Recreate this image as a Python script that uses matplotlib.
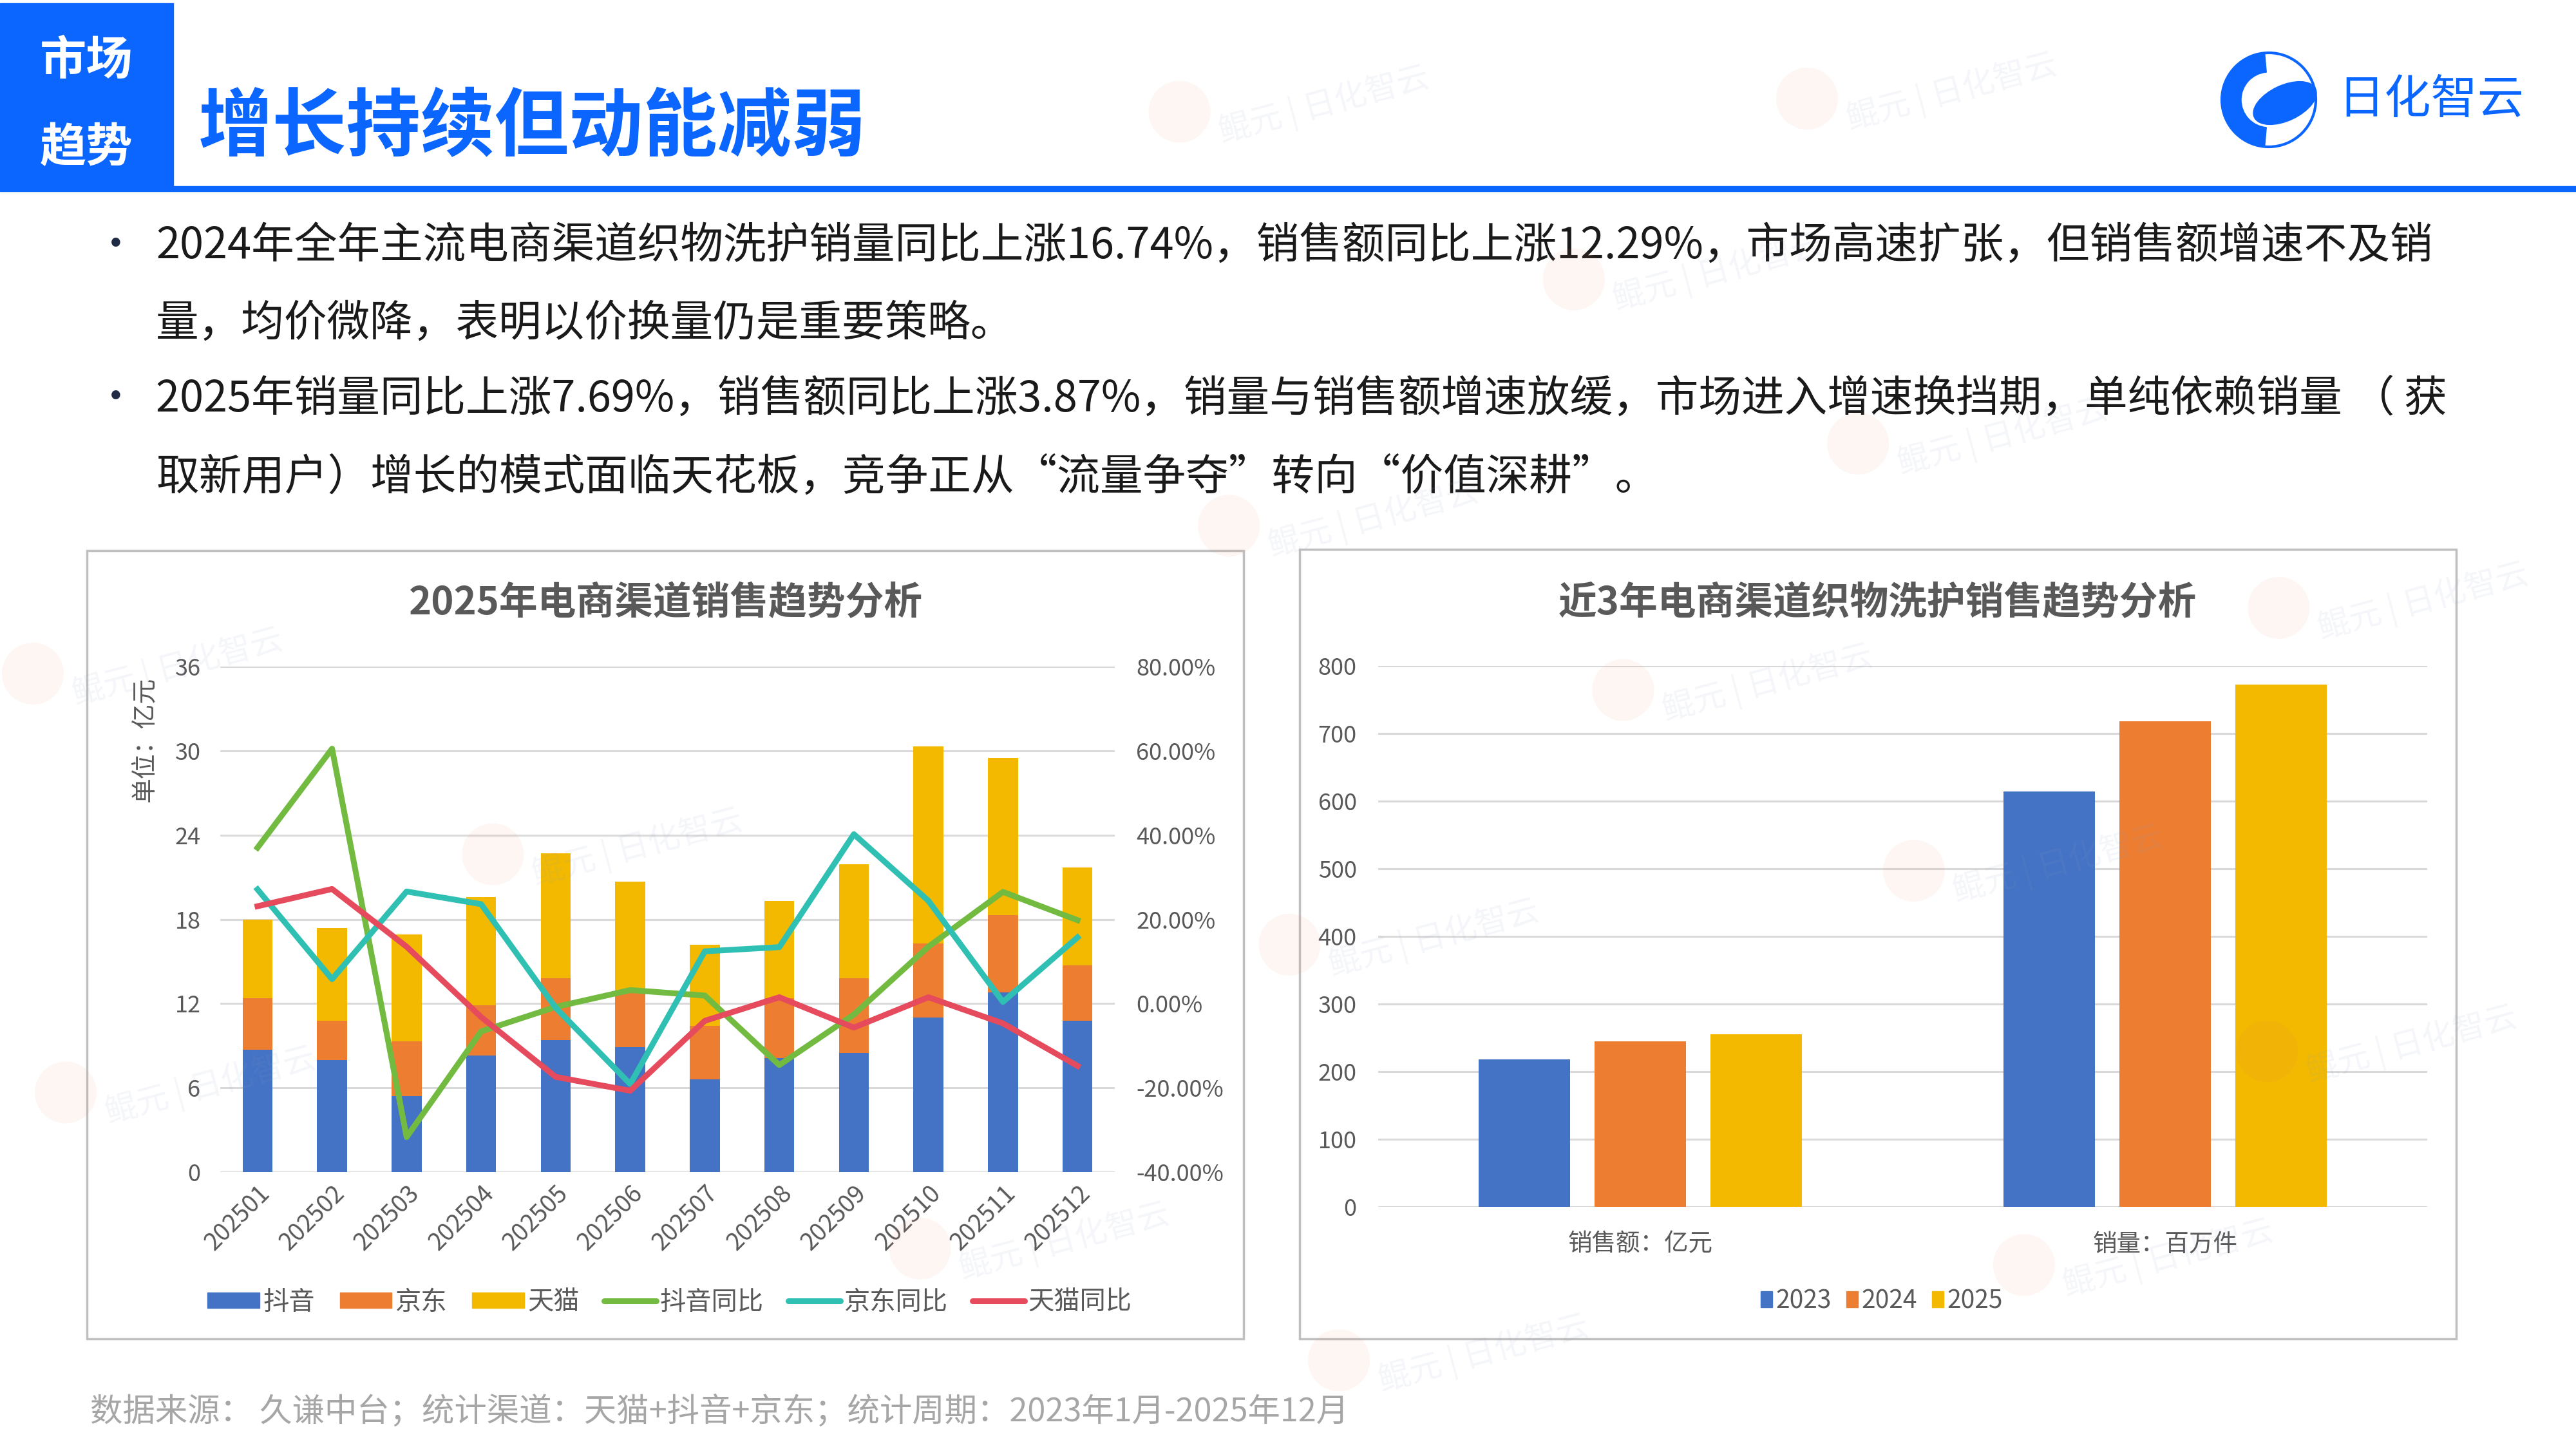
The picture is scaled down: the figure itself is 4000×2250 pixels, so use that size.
import numpy as np
import matplotlib
matplotlib.use("Agg")
import matplotlib.pyplot as plt
import matplotlib.patches as mpatches
from matplotlib.lines import Line2D
from matplotlib.ticker import FuncFormatter

plt.rcParams['font.family'] = ['Noto Sans CJK SC', 'DejaVu Sans']

## Data
months = ['202501', '202502', '202503', '202504', '202505', '202506',
          '202507', '202508', '202509', '202510', '202511', '202512']
douyin = [8.7, 8.0, 5.4, 8.3, 9.4, 8.9, 6.6, 8.1, 8.5, 11.0, 12.8, 10.8]
jd     = [3.7, 2.8, 3.9, 3.6, 4.4, 4.0, 3.8, 4.3, 5.3, 5.3, 5.5, 3.9]
tmall  = [5.6, 6.6, 7.6, 7.7, 8.9, 7.8, 5.8, 6.9, 8.1, 14.0, 11.2, 7.0]
douyin_yoy = [37.0, 60.5, -31.7, -6.6, -0.8, 3.2, 1.9, -14.6, -2.6, 13.5, 26.5, 19.8]
jd_yoy     = [27.1, 5.8, 26.6, 23.6, -1.0, -19.1, 12.4, 13.4, 40.2, 24.4, 0.4, 15.7]
tmall_yoy  = [23.1, 27.2, 13.5, -3.2, -17.4, -20.7, -4.1, 1.5, -5.7, 1.5, -4.7, -14.8]

groups = ['销售额：亿元', '销量：百万件']
years = ['2023', '2024', '2025']
yearly = {'2023': [218, 614], '2024': [245, 718], '2025': [255, 772]}

## Colors
BLUE = '#4472C4'
ORANGE = '#ED7D31'
GOLD = '#F2B900'
GREEN = '#72BB40'
TEAL = '#30C0B3'
RED = '#E64B5D'
HEAD = '#0A66FF'
GRAY = '#595959'
GRID = '#D9D9D9'

W, H = 4000, 2250
fig = plt.figure(figsize=(40, 22.5), dpi=100)

# background axes in pixel coordinates
bg = fig.add_axes([0, 0, 1, 1], zorder=0)
bg.set_xlim(0, W)
bg.set_ylim(H, 0)
bg.axis('off')

# header
bg.add_patch(mpatches.Rectangle((0, 5), 269, 285, color=HEAD))
bg.add_patch(mpatches.Rectangle((0, 289), W, 8, color=HEAD))
bg.text(134, 95, '市场', color='white', fontsize=52, fontweight='bold', ha='center', va='center')
bg.text(134, 230, '趋势', color='white', fontsize=52, fontweight='bold', ha='center', va='center')
bg.text(308, 200, '增长持续但动能减弱', color=HEAD, fontsize=83, fontweight='heavy', ha='left', va='center')

# logo
cx, cy, r = 3523, 155, 73
bg.add_patch(mpatches.Circle((cx, cy), r, fill=False, ec=HEAD, lw=3))
bg.add_patch(mpatches.Wedge((cx, cy), r, 95, 265, width=30, color=HEAD))
bg.add_patch(mpatches.Ellipse((cx + 25, cy + 5), 105, 55, angle=-25, color=HEAD))
bg.text(3630, 155, '日化智云', color=HEAD, fontsize=52, ha='left', va='center')

# bullet text
lines = [
    (383, '•', '2024年全年主流电商渠道织物洗护销量同比上涨16.74%，销售额同比上涨12.29%，市场高速扩张，但销售额增速不及销'),
    (503, '', '量，均价微降，表明以价换量仍是重要策略。'),
    (620, '•', '2025年销量同比上涨7.69%，销售额同比上涨3.87%，销量与销售额增速放缓，市场进入增速换挡期，单纯依赖销量 （ 获'),
    (742, '', '取新用户）增长的模式面临天花板，竞争正从“流量争夺”转向“价值深耕”。'),
]
for y, b, t in lines:
    if b:
        bg.text(180, y, b, fontsize=46, color='#1F2A44', ha='center', va='center')
    bg.text(242, y, t, fontsize=48, color='#1A1A1A', ha='left', va='center')

# panels
bg.add_patch(mpatches.Rectangle((135, 855), 1796, 1224, fill=False, ec='#BFBFBF', lw=2.5))
bg.add_patch(mpatches.Rectangle((2018, 853), 1796, 1226, fill=False, ec='#BFBFBF', lw=2.5))

bg.text(1034, 937, '2025年电商渠道销售趋势分析', fontsize=43, fontweight='bold', color=GRAY, ha='center', va='center')
bg.text(2915, 937, '近3年电商渠道织物洗护销售趋势分析', fontsize=43, fontweight='bold', color=GRAY, ha='center', va='center')
bg.text(224, 1148, '单位：亿元', fontsize=28, color=GRAY, rotation=90, ha='center', va='center')

# footer
bg.text(140, 2193, '数据来源： 久谦中台；统计渠道：天猫+抖音+京东；统计周期：2023年1月-2025年12月',
        fontsize=36.3, color='#A6A6A6', ha='left', va='center')

#-----------------------------------------------------------------------
## Left chart
ax1 = fig.add_axes([342 / W, 1 - 1820 / H, (1731 - 342) / W, (1820 - 1035) / H], zorder=2)
ax1.patch.set_alpha(0)
x = np.arange(len(months))
bw = 0.4
ax1.bar(x, douyin, bw, color=BLUE, label='抖音', zorder=3)
ax1.bar(x, jd, bw, bottom=douyin, color=ORANGE, label='京东', zorder=3)
bot2 = np.array(douyin) + np.array(jd)
ax1.bar(x, tmall, bw, bottom=bot2, color=GOLD, label='天猫', zorder=3)
ax1.set_xlim(-0.5, 11.5)
ax1.set_ylim(0, 36)
ax1.set_yticks(np.arange(0, 37, 6))
ax1.yaxis.grid(True, color=GRID, lw=2.2, zorder=0)
ax1.set_axisbelow(True)
for s in ax1.spines.values():
    s.set_visible(False)
ax1.tick_params(axis='both', length=0, labelsize=26, labelcolor=GRAY)
ax1.tick_params(axis='y', pad=22)
ax1.set_xticks(x)
ax1.set_xticklabels(months, rotation=45, ha='right', rotation_mode='anchor', fontsize=27)
ax1.tick_params(axis='x', pad=10)

ax2 = ax1.twinx()
ax2.set_ylim(-40, 80)
ax2.set_yticks(np.arange(-40, 81, 20))
ax2.yaxis.set_major_formatter(FuncFormatter(lambda v, p: '%.2f%%' % v))
for s in ax2.spines.values():
    s.set_visible(False)
ax2.tick_params(axis='y', length=0, labelsize=26, labelcolor=GRAY, pad=24)
lw = 6.5
ax2.plot(x, douyin_yoy, color=GREEN, lw=lw, solid_joinstyle='round', label='抖音同比')
ax2.plot(x, jd_yoy, color=TEAL, lw=lw, solid_joinstyle='round', label='京东同比')
ax2.plot(x, tmall_yoy, color=RED, lw=lw, solid_joinstyle='round', label='天猫同比')

h1 = [mpatches.Patch(color=c) for c in (BLUE, ORANGE, GOLD)]
h2 = [Line2D([0], [0], color=c, lw=lw, solid_capstyle='round') for c in (GREEN, TEAL, RED)]
fig.legend(h1 + h2, ['抖音', '京东', '天猫', '抖音同比', '京东同比', '天猫同比'],
           loc='center', bbox_to_anchor=(1040 / W, 1 - 2022 / H), ncol=6, frameon=False,
           fontsize=29, labelcolor=GRAY, handlelength=2.0, handleheight=0.55,
           handletextpad=0.15, columnspacing=0.95)

#-----------------------------------------------------------------------
## Right chart
ax3 = fig.add_axes([2140 / W, 1 - 1874 / H, (3769 - 2140) / W, (1874 - 1034) / H], zorder=2)
ax3.patch.set_alpha(0)
gx = np.arange(len(groups))
rb = 0.174
step = 0.221
for i, (yr, c) in enumerate(zip(years, (BLUE, ORANGE, GOLD))):
    ax3.bar(gx + (i - 1) * step, yearly[yr], rb, color=c, label=yr, zorder=3)
ax3.set_xlim(-0.5, 1.5)
ax3.set_ylim(0, 800)
ax3.set_yticks(np.arange(0, 801, 100))
ax3.yaxis.grid(True, color=GRID, lw=2.2, zorder=0)
ax3.set_axisbelow(True)
for s in ax3.spines.values():
    s.set_visible(False)
ax3.set_xticks(gx)
ax3.set_xticklabels(groups)
ax3.tick_params(axis='both', length=0, labelsize=26, labelcolor=GRAY)
ax3.tick_params(axis='y', pad=24)
ax3.tick_params(axis='x', pad=28, labelsize=27)
fig.legend([mpatches.Patch(color=c) for c in (BLUE, ORANGE, GOLD)], years,
           loc='center', bbox_to_anchor=(2922 / W, 1 - 2020 / H), ncol=3, frameon=False,
           fontsize=28, labelcolor=GRAY, handlelength=0.45, handleheight=0.6,
           handletextpad=0.15, columnspacing=0.6)

#-----------------------------------------------------------------------
## Watermarks (faint, on top)
wm = fig.add_axes([0, 0, 1, 1], zorder=10)
wm.set_xlim(0, W)
wm.set_ylim(H, 0)
wm.axis('off')
wm.patch.set_alpha(0)
spots = [(718, 68), (958, 170), (1131, 270), (748, 320), (1387, 370), (988, 420),
         (20, 410), (785, 575), (1165, 530), (1380, 640), (40, 665), (1232, 770),
         (815, 828), (300, 520), (560, 760), (1100, 60)]
for sx, sy in spots:
    px, py = sx * 2.551, sy * 2.551
    wm.add_patch(mpatches.Circle((px, py), 48, color='#F08060', alpha=0.07, lw=0))
    wm.text(px + 55, py - 10, '鲲元 | 日化智云', fontsize=36, color='#90A4C8', alpha=0.1,
            rotation=15, ha='left', va='center')

fig.savefig('out.png', dpi=100)
